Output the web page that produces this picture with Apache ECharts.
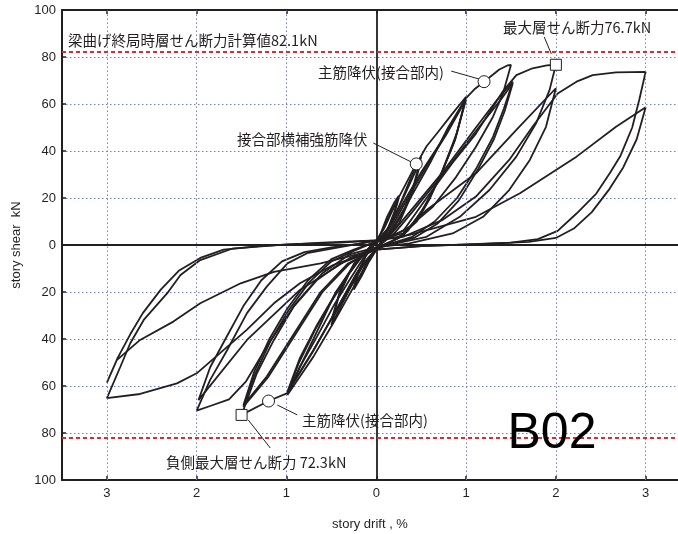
<!DOCTYPE html>
<html>
<head>
<meta charset="utf-8">
<script src="https://cdn.jsdelivr.net/npm/echarts@6/dist/echarts.min.js"></script>
<style>html,body{margin:0;padding:0;background:#fff}#c{width:678px;height:534px}</style>
</head>
<body>
<div id="c"></div>
<script>
// ---- data (story drift %, story shear kN) ----
const xTicks = [-3, -2, -1, 0, 1, 2, 3];
const yTicks = [-100, -80, -60, -40, -20, 0, 20, 40, 60, 80, 100];
const designShear = 82.1;

const cyc025a = [[0,0],[0.05,5],[0.12,12],[0.2,18],[0.25,21],[0.2,14],[0.12,6],[0.05,1],[0,-2],[-0.08,-7],[-0.16,-13],[-0.25,-19],[-0.2,-12],[-0.12,-5],[-0.05,-1],[0,1.5]];
const cyc025b = [[0,1.5],[0.08,7],[0.16,14],[0.25,20],[0.2,13],[0.1,4],[0,-1.5],[-0.1,-7],[-0.18,-13],[-0.25,-18],[-0.2,-11],[-0.1,-3],[0,1.5]];
const cyc05a = [[0,1.5],[0.1,8],[0.22,18],[0.37,29],[0.445,34.5],[0.5,37.5],[0.42,26],[0.3,14],[0.18,6],[0.05,0.5],[0,-1.5],[-0.15,-9],[-0.3,-19],[-0.42,-28],[-0.5,-34],[-0.42,-22],[-0.3,-12],[-0.15,-4],[0,1.5]];
const cyc05b = [[0,1.5],[0.15,8],[0.3,20],[0.42,30],[0.5,36],[0.4,22],[0.25,9],[0.1,2],[0,-1.5],[-0.15,-8],[-0.32,-20],[-0.5,-32],[-0.4,-19],[-0.25,-8],[-0.1,-2],[0,1.5]];
const cyc10a = [[0,1.5],[0.1,5],[0.25,16],[0.4,30],[0.5,38],[0.56,42],[0.69,48.2],[0.85,56],[1.0,63.1],[0.9,48],[0.74,32],[0.6,20],[0.45,10],[0.25,3],[0.1,0.5],[0,-2],[-0.12,-9],[-0.25,-17.7],[-0.48,-33.3],[-0.7,-47.5],[-0.85,-56],[-0.99,-63.8],[-0.85,-51.8],[-0.66,-39],[-0.48,-26.2],[-0.3,-15],[-0.15,-6],[0,1.5]];
const cyc10b = [[0,1.5],[0.1,4],[0.3,18],[0.5,31],[0.74,45],[1.0,62.5],[0.88,45],[0.72,30],[0.55,17],[0.35,6],[0.15,1],[0,-2],[-0.2,-11],[-0.45,-28],[-0.7,-45],[-0.99,-63],[-0.86,-50],[-0.68,-36],[-0.5,-24],[-0.3,-12],[-0.12,-3],[0,1.5]];
const cyc10c = [[0,1.5],[0.12,4],[0.32,18],[0.55,33],[0.78,47],[1.0,62],[0.87,44],[0.7,28],[0.5,14],[0.3,4],[0.12,0.5],[0,-2],[-0.22,-12],[-0.48,-30],[-0.72,-46],[-0.99,-62.5],[-0.85,-48],[-0.66,-34],[-0.46,-21],[-0.25,-9],[-0.1,-2],[0,1.5]];
const cyc15a = [[0,1.5],[0.15,5],[0.35,18],[0.6,35],[0.8,50],[1.0,62.5],[1.1,66.5],[1.2,69.5],[1.37,74.7],[1.46,76.4],[1.5,76.6],[1.41,64.4],[1.3,54.6],[1.11,41.8],[0.89,29],[0.63,16.3],[0.37,7.8],[0.11,2.1],[0,-1],[-0.2,-6],[-0.45,-20],[-0.7,-40],[-0.99,-63],[-1.2,-66.4],[-1.5,-72.3],[-1.33,-54.6],[-1.14,-40.4],[-0.92,-26.2],[-0.66,-14.9],[-0.4,-7.8],[-0.1,-3.5],[0,1]];
const cyc15b = [[0,1],[0.15,4],[0.37,14],[0.74,31],[1.11,50],[1.35,62],[1.52,69.5],[1.42,58],[1.3,46],[1.12,33],[0.9,20],[0.65,10],[0.4,3.5],[0.15,0.5],[0,-1.5],[-0.3,-8],[-0.6,-20],[-0.9,-38],[-1.2,-56],[-1.48,-68.8],[-1.35,-55],[-1.18,-41],[-0.98,-28],[-0.75,-16],[-0.5,-7],[-0.25,-2.5],[0,1.5]];
const cyc15c = [[0,1.5],[0.18,4],[0.4,14],[0.78,32],[1.14,50],[1.37,61],[1.52,68.8],[1.43,57],[1.31,45],[1.13,32],[0.92,19],[0.68,9],[0.42,3],[0.15,0.3],[0,-1.5],[-0.32,-8],[-0.62,-20],[-0.92,-38],[-1.22,-56],[-1.48,-68.2],[-1.36,-54],[-1.19,-40],[-0.99,-27],[-0.76,-15],[-0.5,-6],[-0.25,-2],[0,1.5]];
const cyc20a = [[0,1.5],[0.3,6],[0.56,20],[0.85,35],[1.11,47.4],[1.41,65.4],[1.56,72.3],[1.74,75.2],[1.9,76.4],[2.0,76.7],[1.93,66],[1.78,51.8],[1.56,37.6],[1.26,23.4],[0.93,12],[0.56,3.5],[0.22,0.7],[0,-1],[-0.3,-4],[-0.6,-12],[-0.9,-25],[-1.2,-42],[-1.45,-58],[-1.64,-65.7],[-1.85,-68.5],[-2.0,-70.5],[-1.85,-57.4],[-1.66,-44.7],[-1.44,-29],[-1.22,-17.7],[-0.99,-7.8],[-0.77,-3.5],[-0.48,-1.4],[-0.2,0.5],[0,2]];
const cyc20b = [[0,2],[0.3,5],[0.56,14.9],[1.11,30.5],[1.56,49],[2.0,66.7],[1.89,50.3],[1.71,36.2],[1.48,23.4],[1.19,12],[0.85,4.9],[0.37,0.7],[0,-1],[-0.3,-5.7],[-0.85,-19.1],[-1.44,-40.4],[-1.98,-66],[-1.85,-52],[-1.68,-40],[-1.48,-26],[-1.28,-15],[-1.05,-7],[-0.8,-3],[-0.5,-1],[-0.2,0.5],[0,2]];
const cyc30a = [[0,2],[0.3,3.5],[0.74,10.7],[1.11,20.6],[1.48,36.2],[1.74,50.3],[2.02,64.5],[2.23,69.5],[2.41,72.3],[2.67,73.5],[3.0,73.7],[2.93,62],[2.85,50],[2.72,38],[2.6,30.5],[2.45,21.9],[2.23,13.4],[2.02,6],[1.8,2.5],[1.5,1],[1.0,0.3],[0.5,-0.5],[0,-2],[-0.48,-8.5],[-0.85,-16.3],[-1.14,-24.8],[-1.44,-36],[-1.74,-46],[-2.0,-54.6],[-2.22,-58.9],[-2.63,-63.4],[-3.0,-65.2],[-2.85,-51.8],[-2.74,-41.8],[-2.59,-31.9],[-2.33,-20.6],[-2.18,-12.8],[-1.96,-6.4],[-1.6,-1.5],[-1.0,0.3],[-0.4,1],[0,2]];
const cyc30b = [[0,2],[0.37,4.3],[1.11,12],[1.6,22],[2.23,37.6],[2.67,50.3],[3.0,58.6],[2.9,45],[2.75,33],[2.6,24],[2.4,14],[2.2,7],[2.0,3],[1.7,1.3],[1.2,0.5],[0.5,-0.5],[0,-2],[-0.62,-7.8],[-1.14,-11.4],[-1.51,-16.3],[-1.96,-24.8],[-2.26,-32.6],[-2.63,-40.4],[-2.89,-49],[-3.0,-58.6],[-2.88,-48],[-2.74,-38],[-2.6,-29],[-2.4,-19],[-2.2,-11],[-1.96,-5.5],[-1.7,-2],[-1.3,-0.5],[-0.6,1],[0,2]];

const cycles = [cyc025a, cyc025b, cyc05a, cyc05b, cyc10a, cyc10b, cyc10c, cyc15a, cyc15b, cyc15c, cyc20a, cyc20b, cyc30a, cyc30b];

// event markers
const squares = [[2.0, 76.7], [-1.5, -72.3]];
const circles = [[1.2, 69.5], [0.445, 34.5], [-1.2, -66.4]];
// leader lines (data coords)
const leaders = [
  [[1.871, 88.5], [1.949, 81.3]],
  [[0.835, 74.0], [1.147, 70.6]],
  [[-0.033, 43.4], [0.39, 35.3]],
  [[-1.102, -68.1], [-0.88, -72.3]],
  [[-1.425, -74.5], [-1.18, -86.4]]
];

const FONT = 'Liberation Sans, Arial, Noto Sans CJK JP, sans-serif';
const JFONT = 'Noto Sans CJK JP, Liberation Sans, sans-serif';
const gridColor = '#6f7fd6';
const X_MIN = -3.5, X_MAX = 3.36; // plot runs past the right edge of the picture

const chart = echarts.init(document.getElementById('c'), null, {renderer: 'canvas'});

const curveSeries = cycles.map((d) => ({
  type: 'line', data: d, showSymbol: false, symbol: 'none', smooth: false,
  lineStyle: {color: '#231f20', width: 1.8}, z: 3, silent: true, animation: false
}));

const option = {
  animation: false,
  backgroundColor: '#fff',
  grid: {left: 62, top: 10, bottom: 54, right: 0, show: false, containLabel: false, outerBoundsMode: 'none'},
  xAxis: [{
    type: 'value', min: X_MIN, max: X_MAX, interval: 0.5,
    name: 'story drift , %', nameLocation: 'middle', nameGap: 38,
    nameTextStyle: {fontFamily: FONT, fontSize: 13, color: '#231f20'},
    axisLine: {show: true, onZero: false, lineStyle: {color: '#231f20', width: 2}},
    axisTick: {show: true, inside: true, length: 4, customValues: xTicks, lineStyle: {color: '#231f20', width: 1.5}},
    axisLabel: {show: true, customValues: xTicks, margin: 7, fontFamily: FONT, fontSize: 13, color: '#231f20',
      formatter: v => (Math.abs(v - Math.round(v)) < 1e-6 ? String(Math.abs(Math.round(v))) : '')},
    splitLine: {show: false}
  }, {
    type: 'value', min: X_MIN, max: X_MAX, interval: 0.5, position: 'top',
    axisLine: {show: true, onZero: false, lineStyle: {color: '#231f20', width: 2}},
    axisTick: {show: true, inside: true, length: 4, customValues: xTicks, lineStyle: {color: '#231f20', width: 1.5}},
    axisLabel: {show: false},
    splitLine: {show: false}
  }],
  yAxis: {
    type: 'value', min: -100, max: 100, interval: 20,
    name: 'story shear  kN', nameLocation: 'middle', nameGap: 31, nameRotate: 90,
    nameTextStyle: {fontFamily: FONT, fontSize: 13, color: '#231f20'},
    axisLine: {show: true, onZero: false, lineStyle: {color: '#231f20', width: 2}},
    axisTick: {show: true, inside: true, length: 4, lineStyle: {color: '#231f20', width: 1.5}},
    axisLabel: {margin: 6, fontFamily: FONT, fontSize: 13, color: '#231f20', formatter: v => String(Math.abs(v))},
    splitLine: {show: true, lineStyle: {color: gridColor, type: [1.5, 2.5], width: 1}}
  },
  series: [
    {
      type: 'line', data: [], z: 1, silent: true,
      markLine: {
        silent: true, symbol: 'none', animation: false, label: {show: false},
        data: xTicks.filter(v => v !== 0).map(v => ({xAxis: v, lineStyle: {color: gridColor, type: [1.5, 2.5], width: 1}}))
          .concat([
            {xAxis: 0, lineStyle: {color: '#231f20', type: 'solid', width: 1.8}},
            {yAxis: 0, lineStyle: {color: '#231f20', type: 'solid', width: 1.8}},
            {yAxis: designShear, lineStyle: {color: '#e8262b', type: [4, 3], width: 2}},
            {yAxis: -designShear, lineStyle: {color: '#e8262b', type: [4, 3], width: 2}}
          ])
      }
    },
    ...curveSeries,
    {
      type: 'line', data: [], z: 4, silent: true,
      markLine: {
        silent: true, symbol: 'none', animation: false, label: {show: false},
        data: leaders.map(l => [{coord: l[0], lineStyle: {color: '#231f20', width: 1, type: 'solid'}}, {coord: l[1]}])
      }
    },
    {
      type: 'scatter', data: squares, symbol: 'rect', symbolSize: 11, z: 5, silent: true,
      itemStyle: {color: '#ffffff', borderColor: '#231f20', borderWidth: 1, opacity: 1}
    },
    {
      type: 'scatter', data: circles, symbol: 'circle', symbolSize: 12, z: 5, silent: true,
      itemStyle: {color: '#ffffff', borderColor: '#231f20', borderWidth: 1, opacity: 1}
    }
  ],
  graphic: [
    {type: 'text', x: 68, y: 40, z: 10, style: {text: '梁曲げ終局時層せん断力計算値82.1kN', font: '14.5px ' + JFONT, fill: '#231f20', align: 'left', verticalAlign: 'middle'}},
    {type: 'text', x: 503, y: 27, z: 10, style: {text: '最大層せん断力76.7kN', font: '14.5px ' + JFONT, fill: '#231f20', align: 'left', verticalAlign: 'middle'}},
    {type: 'text', x: 318, y: 72, z: 10, style: {text: '主筋降伏(接合部内)', font: '14.5px ' + JFONT, fill: '#231f20', align: 'left', verticalAlign: 'middle'}},
    {type: 'text', x: 237, y: 139, z: 10, style: {text: '接合部横補強筋降伏', font: '14.5px ' + JFONT, fill: '#231f20', align: 'left', verticalAlign: 'middle'}},
    {type: 'text', x: 302, y: 420, z: 10, style: {text: '主筋降伏(接合部内)', font: '14.5px ' + JFONT, fill: '#231f20', align: 'left', verticalAlign: 'middle'}},
    {type: 'text', x: 166, y: 462, z: 10, style: {text: '負側最大層せん断力 72.3kN', font: '14.5px ' + JFONT, fill: '#231f20', align: 'left', verticalAlign: 'middle'}},
    {type: 'text', x: 552, y: 434, z: 10, style: {text: 'B02', font: '50px ' + FONT, fill: '#000', align: 'center', verticalAlign: 'middle'}}
  ]
};
chart.setOption(option);
</script>
</body>
</html>
